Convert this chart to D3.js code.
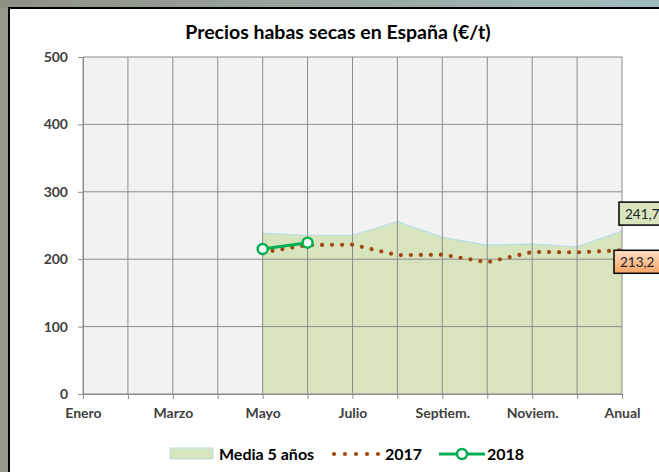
<!DOCTYPE html>
<html>
<head>
<meta charset="utf-8">
<script src="https://cdnjs.cloudflare.com/ajax/libs/d3/7.8.5/d3.min.js"></script>
<style>
  body { margin: 0; padding: 0; overflow: hidden; }
  svg text { font-family: Lato, "Open Sans", sans-serif; }
</style>
</head>
<body>
<div id="chart"></div>
<script>
// data
var months = ["Enero", "Febrero", "Marzo", "Abril", "Mayo", "Junio", "Julio", "Agosto",
              "Septiem.", "Octubre", "Noviem.", "Diciem.", "Anual"];
var tickLabels = ["Enero", "Marzo", "Mayo", "Julio", "Septiem.", "Noviem.", "Anual"];
var media5 = [null, null, null, null, 238.4, 235.5, 235.5, 255.7, 232.5, 221, 222.5, 218.5, 241.7];
var y2017 = [null, null, null, null, 210, 221, 221.5, 206, 206.7, 195.5, 210.7, 210.2, 213.2];
var y2018 = [null, null, null, null, 215, 224.5, null, null, null, null, null, null, null];
var yTicks = [0, 100, 200, 300, 400, 500];

var svgWidth = 659;
var svgHeight = 472;

var margin = { top: 57, right: 37, bottom: 78, left: 83 };
var chartWidth = svgWidth - margin.left - margin.right;
var chartHeight = svgHeight - margin.top - margin.bottom;

var svg = d3.select("#chart")
    .append("svg")
    .attr("width", svgWidth)
    .attr("height", svgHeight);

var defs = svg.append("defs");
var topGrad = defs.append("linearGradient").attr("id", "topGrad");
topGrad.append("stop").attr("offset", "0%").attr("stop-color", "#8f9283");
topGrad.append("stop").attr("offset", "100%").attr("stop-color", "#a2bcbe");
var orangeGrad = defs.append("linearGradient").attr("id", "orangeGrad")
    .attr("x1", 0).attr("y1", 0).attr("x2", 0).attr("y2", 1);
orangeGrad.append("stop").attr("offset", "0%").attr("stop-color", "#fde0c8");
orangeGrad.append("stop").attr("offset", "100%").attr("stop-color", "#f6a463");

// window frame around the chart
svg.append("rect").attr("width", svgWidth).attr("height", svgHeight).attr("fill", "#979a8c");
svg.append("rect").attr("width", svgWidth).attr("height", 8).attr("fill", "url(#topGrad)");
svg.append("rect").attr("x", 9).attr("y", 8).attr("width", svgWidth).attr("height", svgHeight)
    .attr("fill", "#ffffff").attr("stroke", "#000").attr("stroke-width", 2);

svg.append("text")
    .attr("x", 338).attr("y", 39)
    .attr("text-anchor", "middle")
    .attr("font-size", "19.5px").attr("font-weight", "bold")
    .attr("fill", "#000")
    .text("Precios habas secas en España (€/t)");

var chartGroup = svg.append("g")
    .attr("transform", `translate(${margin.left}, ${margin.top})`);

var xScale = d3.scalePoint()
    .domain(months)
    .range([0, chartWidth]);

var yScale = d3.scaleLinear()
    .domain([0, 500])
    .range([chartHeight, 0]);

chartGroup.append("rect")
    .attr("width", chartWidth).attr("height", chartHeight)
    .attr("fill", "#f2f2f2");

// area for 5-year mean
var area = d3.area()
    .defined(d => d.v != null)
    .x(d => xScale(d.m))
    .y0(yScale(0))
    .y1(d => yScale(d.v));
var mediaData = months.map((m, i) => ({ m: m, v: media5[i] }));
chartGroup.append("path")
    .datum(mediaData)
    .attr("d", area)
    .attr("fill", "#d8e4bd");
chartGroup.append("path")
    .datum(mediaData)
    .attr("d", d3.line().defined(d => d.v != null).x(d => xScale(d.m)).y(d => yScale(d.v)))
    .attr("fill", "none").attr("stroke", "#b7dde8").attr("stroke-width", 1.2);

// gridlines
chartGroup.selectAll(".hgrid")
    .data(yTicks)
    .enter().append("line")
    .attr("x1", 0).attr("x2", chartWidth)
    .attr("y1", d => yScale(d)).attr("y2", d => yScale(d))
    .attr("stroke", "#8c8c8c").attr("stroke-width", 1);
chartGroup.selectAll(".vgrid")
    .data(months)
    .enter().append("line")
    .attr("x1", d => xScale(d)).attr("x2", d => xScale(d))
    .attr("y1", 0).attr("y2", chartHeight)
    .attr("stroke", "#8c8c8c").attr("stroke-width", 1);

// axes
var leftAxis = d3.axisLeft(yScale).tickValues(yTicks).tickSize(5).tickPadding(10);
var bottomAxis = d3.axisBottom(xScale).tickSize(5).tickPadding(9)
    .tickFormat(d => tickLabels.indexOf(d) >= 0 ? d : "");

var yAxisG = chartGroup.append("g").call(leftAxis);
var xAxisG = chartGroup.append("g")
    .attr("transform", `translate(0, ${chartHeight})`)
    .call(bottomAxis);
[yAxisG, xAxisG].forEach(function(g) {
    g.select(".domain").attr("stroke", "#8c8c8c");
    g.selectAll(".tick line").attr("stroke", "#8c8c8c");
    g.selectAll("text")
        .attr("font-size", "14px").attr("font-weight", "bold")
        .attr("fill", "#404040")
        .style("font-family", "Lato, sans-serif");
});

// 2017 dotted line
var line = d3.line()
    .defined(d => d.v != null)
    .x(d => xScale(d.m))
    .y(d => yScale(d.v));
chartGroup.append("path")
    .datum(months.map((m, i) => ({ m: m, v: y2017[i] })))
    .attr("d", line)
    .attr("fill", "none")
    .attr("stroke", "#a0480c")
    .attr("stroke-width", 4.2)
    .attr("stroke-linecap", "round")
    .attr("stroke-dasharray", "0 10");

// 2018 line with markers
var d2018 = months.map((m, i) => ({ m: m, v: y2018[i] }));
chartGroup.append("path")
    .datum(d2018)
    .attr("d", line)
    .attr("fill", "none")
    .attr("stroke", "#00b050")
    .attr("stroke-width", 3);
chartGroup.selectAll(".m2018")
    .data(d2018.filter(d => d.v != null))
    .enter().append("circle")
    .attr("cx", d => xScale(d.m))
    .attr("cy", d => yScale(d.v))
    .attr("r", 5)
    .attr("fill", "#fff")
    .attr("stroke", "#00b050")
    .attr("stroke-width", 2.5);

// data labels for the annual values
var last = months.length - 1;
var labels = [
    { v: media5[last], fill: "#d8e4bd", dx: -3, dy: -29 },
    { v: y2017[last], fill: "url(#orangeGrad)", dx: -8, dy: 0 }
];
labels.forEach(function(l) {
    var x = xScale(months[last]) + l.dx;
    var y = yScale(l.v) + l.dy;
    var g = chartGroup.append("g").attr("transform", `translate(${x}, ${y})`);
    g.append("rect")
        .attr("width", 52).attr("height", 23)
        .attr("fill", l.fill).attr("stroke", "#000").attr("stroke-width", 1.5);
    g.append("text")
        .attr("x", 6).attr("y", 16.5)
        .attr("font-size", "13.5px").attr("fill", "#222")
        .text(d3.format(".1f")(l.v).replace(".", ","));
});

// legend
var legend = svg.append("g");
legend.append("rect")
    .attr("x", 170).attr("y", 448).attr("width", 43).attr("height", 11)
    .attr("fill", "#d8e4bd").attr("stroke", "#b7dde8");
legend.append("text").attr("x", 219).attr("y", 460).text("Media 5 años");
legend.append("line")
    .attr("x1", 334).attr("x2", 379).attr("y1", 454).attr("y2", 454)
    .attr("stroke", "#a0480c").attr("stroke-width", 4.2)
    .attr("stroke-linecap", "round").attr("stroke-dasharray", "0 11");
legend.append("text").attr("x", 385).attr("y", 460).text("2017");
legend.append("line")
    .attr("x1", 439).attr("x2", 485).attr("y1", 454).attr("y2", 454)
    .attr("stroke", "#00b050").attr("stroke-width", 3);
legend.append("circle")
    .attr("cx", 462).attr("cy", 454).attr("r", 5)
    .attr("fill", "#fff").attr("stroke", "#00b050").attr("stroke-width", 2.5);
legend.append("text").attr("x", 487).attr("y", 460).text("2018");
legend.selectAll("text")
    .attr("font-size", "16px").attr("font-weight", "bold").attr("fill", "#000");
</script>
</body>
</html>
